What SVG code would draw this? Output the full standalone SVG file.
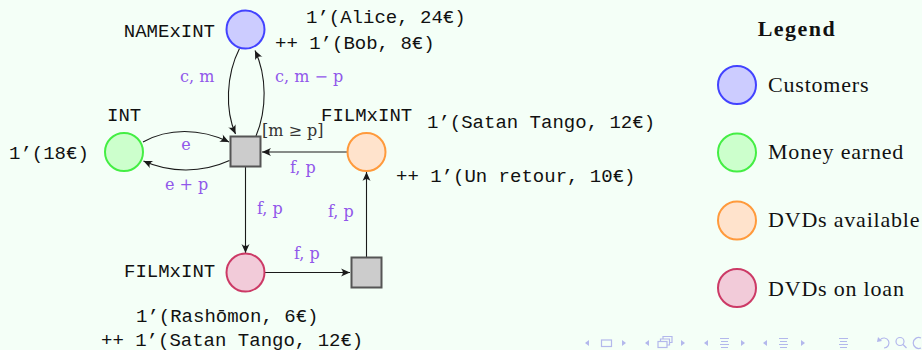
<svg xmlns="http://www.w3.org/2000/svg" width="922" height="350" viewBox="0 0 922 350">
  <style>
    .mono { font-family: "Liberation Mono", "DejaVu Sans Mono", monospace; font-size: 19px; fill: #111; }
    .lab { font-family: "DejaVu Serif", "Liberation Serif", serif; font-size: 16px; fill: #9157ea; }
    .guard { font-family: "DejaVu Serif", "Liberation Serif", serif; font-size: 16px; fill: #333; }
    .leg { font-family: "Liberation Serif", "DejaVu Serif", serif; font-size: 22px; fill: #111; letter-spacing: 0.8px; }
    .legh { font-family: "Liberation Serif", "DejaVu Serif", serif; font-size: 22px; font-weight: bold; fill: #111; letter-spacing: 1.5px; }
    .arc { fill: none; stroke: #1a1a1a; stroke-width: 1.1; marker-end: url(#tip); }
    .trans { fill: #cccccc; stroke: #555555; stroke-width: 2; }
    .cust { fill: #ccccff; stroke: #4343ff; stroke-width: 2; }
    .money { fill: #ccffcc; stroke: #44ee44; stroke-width: 2; }
    .avail { fill: #ffe3cc; stroke: #ff9a3c; stroke-width: 2; }
    .loan { fill: #f2cbd9; stroke: #cc3a66; stroke-width: 2; }
    .nav { fill: #b3b8ec; stroke: none; }
    .navs { fill: none; stroke: #b3b8ec; stroke-width: 1.2; }
  </style>
  <defs>
    <marker id="tip" viewBox="-10 -5 11 10" refX="0" refY="0" markerWidth="11" markerHeight="10" markerUnits="userSpaceOnUse" orient="auto">
      <path d="M0,0 L-9,-4 C-6.5,-1.5 -6.5,1.5 -9,4 Z" fill="#1a1a1a"/>
    </marker>
  </defs>

  <rect x="0" y="0" width="922" height="350" fill="#f4fff7"/>

  <!-- arcs of the net -->
  <g id="connectors">
    <path class="arc" d="M239.5,48.5 C226,75 225,110 235.5,134"/>
    <path class="arc" d="M256,136 C267,110 267,76 255,50.5"/>
    <path class="arc" d="M143,142 C168,128 200,128 229,142"/>
    <path class="arc" d="M229.5,160.5 C202,173 170,173 143.5,161"/>
    <path class="arc" d="M347,152 L262,152"/>
    <path class="arc" d="M245.5,167 L245.5,253"/>
    <path class="arc" d="M265,272.5 L350,272.5"/>
    <path class="arc" d="M366.5,257 L366.5,172"/>

    <text class="lab" x="180" y="82">c, m</text>
    <text class="lab" x="275" y="82">c, m − p</text>
    <text class="lab" x="186" y="150" text-anchor="middle">e</text>
    <text class="lab" x="165" y="190">e + p</text>
    <text class="lab" x="290" y="173">f, p</text>
    <text class="lab" x="257" y="214">f, p</text>
    <text class="lab" x="328" y="217">f, p</text>
    <text class="lab" x="294" y="259">f, p</text>
  </g>

  <g id="customers">
    <circle class="cust" cx="245.5" cy="29.5" r="19"/>
    <text class="mono" x="215" y="36.5" text-anchor="end">NAMExINT</text>
    <text class="mono" x="306" y="23">1’(Alice, 24€)</text>
    <text class="mono" x="275" y="49">++ 1’(Bob, 8€)</text>
  </g>

  <g id="money">
    <circle class="money" cx="124" cy="152" r="19"/>
    <text class="mono" x="107" y="121">INT</text>
    <text class="mono" x="9" y="159">1’(18€)</text>
  </g>

  <g id="rent">
    <rect class="trans" x="230.5" y="136.5" width="30" height="30"/>
    <text class="guard" x="262" y="135.5">[m ≥ p]</text>
  </g>

  <g id="available">
    <circle class="avail" cx="366.5" cy="152" r="19"/>
    <text class="mono" x="321" y="121">FILMxINT</text>
    <text class="mono" x="427" y="128">1’(Satan Tango, 12€)</text>
    <text class="mono" x="396" y="182">++ 1’(Un retour, 10€)</text>
  </g>

  <g id="loan">
    <circle class="loan" cx="245.5" cy="272.5" r="19"/>
    <text class="mono" x="124" y="277">FILMxINT</text>
    <text class="mono" x="136" y="322">1’(Rashōmon, 6€)</text>
    <text class="mono" x="101" y="345.5">++ 1’(Satan Tango, 12€)</text>
  </g>

  <g id="return">
    <rect class="trans" x="351.5" y="257.5" width="30" height="30"/>
  </g>

  <g id="legend">
    <text class="legh" x="797" y="36" text-anchor="middle">Legend</text>
    <circle class="cust" cx="737" cy="85" r="19"/>
    <text class="leg" x="768" y="92">Customers</text>
    <circle class="money" cx="737" cy="152.5" r="19"/>
    <text class="leg" x="768" y="159">Money earned</text>
    <circle class="avail" cx="737" cy="220.5" r="19"/>
    <text class="leg" x="768" y="227">DVDs available</text>
    <circle class="loan" cx="737" cy="288" r="19"/>
    <text class="leg" x="768" y="295.5">DVDs on loan</text>
  </g>

  <!-- slide navigation bar -->
  <g id="navigation">
    <polygon class="nav" points="585,343 589,340 589,346"/>
    <rect class="navs" x="601.5" y="340" width="10" height="6.5"/>
    <polygon class="nav" points="626,343 622,340 622,346"/>

    <polygon class="nav" points="645,343 649,340 649,346"/>
    <rect class="navs" x="658" y="341.5" width="9" height="6"/>
    <path class="navs" d="M660.5,341.5 V339 H669.5 V345 H667 M663,339 V336.5 H672 V342.5 H669.5"/>
    <polygon class="nav" points="685,343 681,340 681,346"/>

    <polygon class="nav" points="704,343 708,340 708,346"/>
    <path class="navs" d="M720,338.5 H729 M721,341.5 H728 M720,344.5 H729 M721,347.5 H728"/>
    <polygon class="nav" points="745,343 741,340 741,346"/>

    <polygon class="nav" points="763,343 767,340 767,346"/>
    <path class="navs" d="M779,338.5 H788 M780,341.5 H787 M779,344.5 H788 M780,347.5 H787"/>
    <polygon class="nav" points="805,343 801,340 801,346"/>

    <path class="navs" d="M839,338.5 H848 M840,341.5 H847 M839,344.5 H848 M840,347.5 H847"/>

    <path class="navs" d="M880,340 A5,5 0 1 1 884,348"/>
    <polygon class="nav" points="878,337 882,341 877,342"/>
    <circle class="navs" cx="900" cy="341.5" r="4"/>
    <path class="navs" d="M903,344.5 L906.5,348"/>
    <path class="navs" d="M921,338 A5.5,5.5 0 1 0 921,348"/>
  </g>
</svg>
